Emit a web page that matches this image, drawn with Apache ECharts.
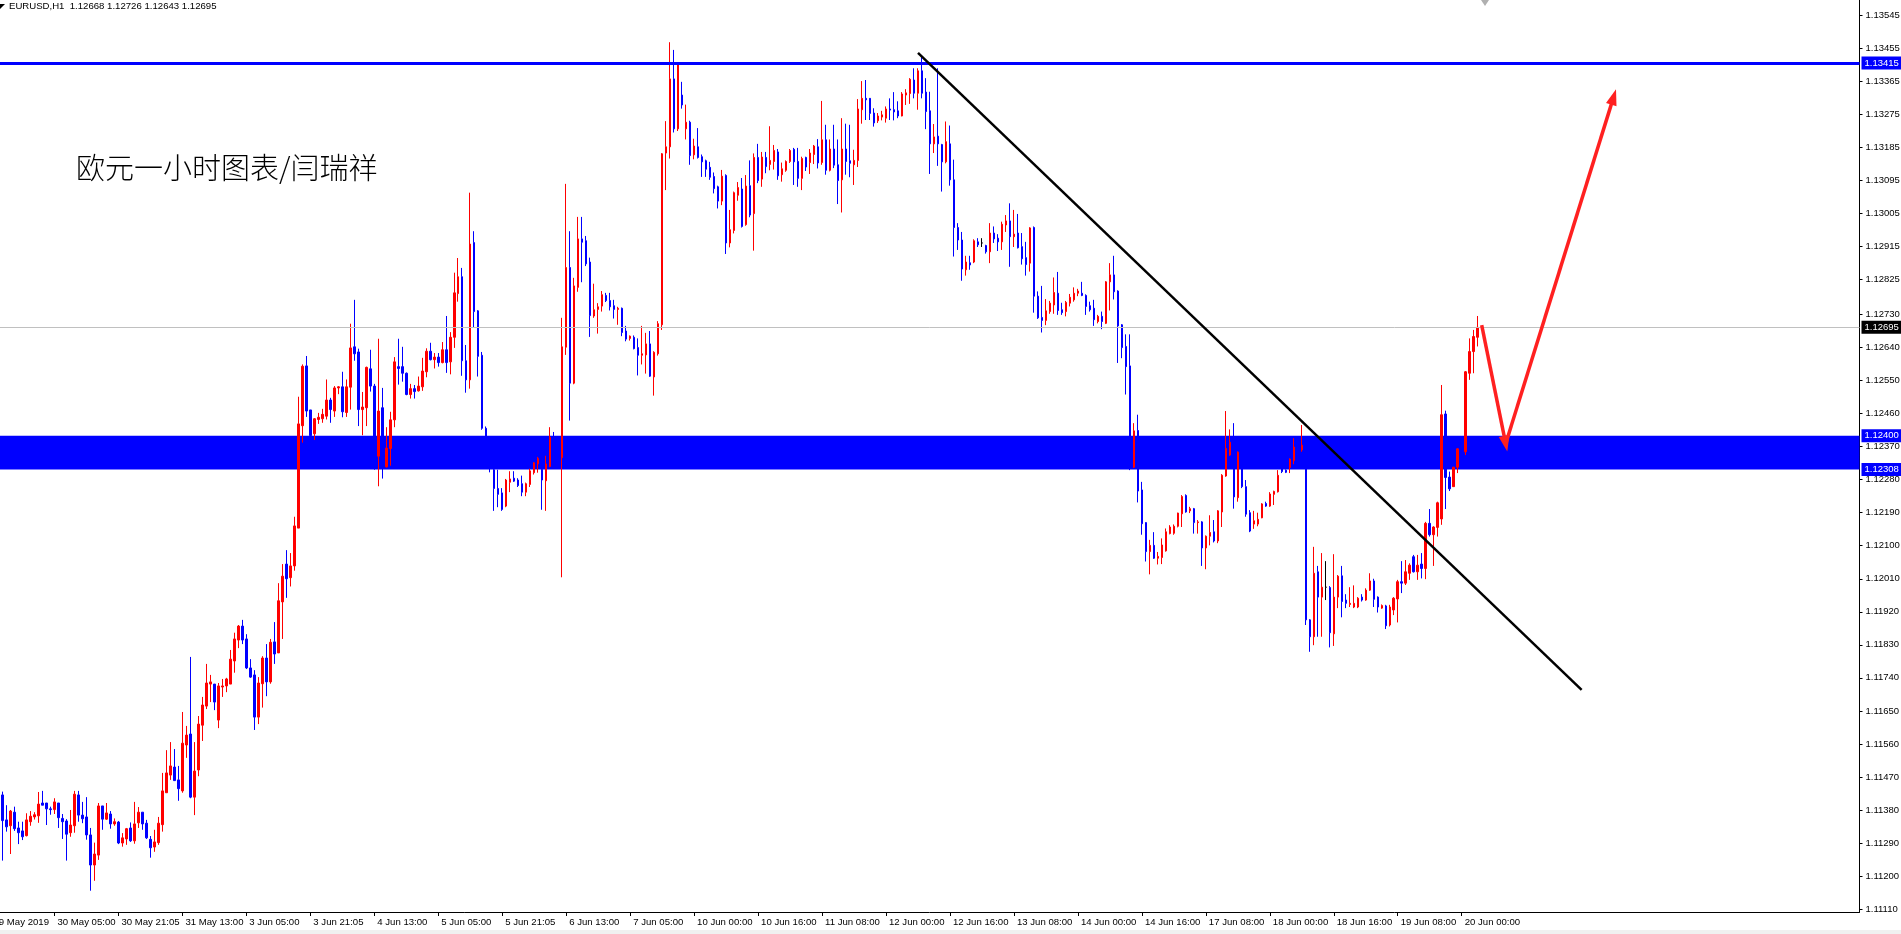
<!DOCTYPE html>
<html>
<head>
<meta charset="utf-8">
<script src="https://cdn.jsdelivr.net/npm/echarts@6/dist/echarts.min.js"></script>
<style>
html,body{margin:0;padding:0;background:#ffffff;}
#chart{width:1901px;height:934px;}
</style>
</head>
<body>
<div id="chart"></div>
<script>
// ---------------- DATA ----------------
const symbolName = 'EURUSD,H1';
const chartNote = '欧元一小时图表/闫瑞祥';

// time-axis tick labels, one every 16 hourly bars (first tick is 3 bars before first candle)
const xTickLabels = ['29 May 2019','30 May 05:00','30 May 21:05','31 May 13:00','3 Jun 05:00','3 Jun 21:05',
  '4 Jun 13:00','5 Jun 05:00','5 Jun 21:05','6 Jun 13:00','7 Jun 05:00','10 Jun 00:00','10 Jun 16:00',
  '11 Jun 08:00','12 Jun 00:00','12 Jun 16:00','13 Jun 08:00','14 Jun 00:00','14 Jun 16:00',
  '17 Jun 08:00','18 Jun 00:00','18 Jun 16:00','19 Jun 08:00','20 Jun 00:00'];
const barsPerTick = 16;
const leadBars = 3;       // empty slots before the first candle
const totalSlots = 468;   // visible hourly slots (includes empty right margin)

const yTickValues = [1.11110,1.11200,1.11290,1.11380,1.11470,1.11560,1.11650,1.11740,1.11830,1.11920,
  1.12010,1.12100,1.12190,1.12280,1.12370,1.12460,1.12550,1.12640,1.12730,1.12825,1.12915,1.13005,
  1.13095,1.13185,1.13275,1.13365,1.13455,1.13545];
const yMin = 1.11102, yMax = 1.13587;

const open = [
1.11421,1.11353,1.11337,1.11374,1.11331,1.11323,1.11310,1.11348,1.11361,1.11364,
1.11399,1.11399,1.11383,1.11381,1.11399,1.11357,1.11350,1.11318,1.11337,1.11421,
1.11366,1.11361,1.11312,1.11230,1.11257,1.11391,1.11355,1.11369,1.11342,1.11347,
1.11290,1.11301,1.11331,1.11296,1.11345,1.11374,1.11344,1.11300,1.11279,1.11291,
1.11340,1.11427,1.11475,1.11497,1.11462,1.11432,1.11557,1.11587,1.11415,1.11489,
1.11611,1.11663,1.11723,1.11723,1.11625,1.11715,1.11718,1.11723,1.11786,1.11843,
1.11881,1.11846,1.11767,1.11748,1.11633,1.11724,1.11794,1.11729,1.11838,1.11808,
1.11947,1.12050,1.12013,1.12045,1.12148,1.12427,1.12590,1.12470,1.12405,1.12444,
1.12446,1.12453,1.12497,1.12467,1.12530,1.12533,1.12463,1.12532,1.12642,1.12628,
1.12471,1.12476,1.12582,1.12535,1.12344,1.12476,1.12315,1.12365,1.12443,1.12588,
1.12588,1.12570,1.12512,1.12528,1.12522,1.12533,1.12574,1.12630,1.12607,1.12614,
1.12599,1.12634,1.12601,1.12668,1.12787,1.12833,1.12604,1.12552,1.12926,1.12740,
1.12619,1.12420,1.12388,1.12307,1.12256,1.12244,1.12208,1.12273,1.12284,1.12279,
1.12269,1.12246,1.12267,1.12299,1.12323,1.12308,1.12277,1.12316,1.12396,1.12355,
1.12340,1.12641,1.12858,1.12543,1.12804,1.12936,1.12931,1.12873,1.12726,1.12744,
1.12753,1.12782,1.12768,1.12754,1.12744,1.12747,1.12685,1.12665,1.12668,1.12640,
1.12619,1.12620,1.12650,1.12560,1.12623,1.12702,1.13170,1.13187,1.13372,1.13236,
1.13328,1.13236,1.13254,1.13165,1.13187,1.13160,1.13149,1.13131,1.13106,1.13078,
1.13039,1.13109,1.12925,1.12959,1.13055,1.13072,1.12975,1.13081,1.13005,1.13158,
1.13099,1.13158,1.13139,1.13147,1.13173,1.13111,1.13123,1.13147,1.13180,1.13147,
1.13101,1.13158,1.13144,1.13166,1.13187,1.13144,1.13206,1.13123,1.13181,1.13138,
1.13097,1.13181,1.13149,1.13138,1.13150,1.13288,1.13319,1.13319,1.13279,1.13258,
1.13268,1.13265,1.13290,1.13288,1.13285,1.13271,1.13328,1.13332,1.13369,1.13333,
1.13394,1.13336,1.13285,1.13195,1.13216,1.13193,1.13146,1.13195,1.13097,1.12967,
1.12933,1.12852,1.12871,1.12873,1.12928,1.12925,1.12918,1.12901,1.12952,1.12938,
1.12928,1.12974,1.12985,1.12942,1.12952,1.12915,1.12885,1.12870,1.12967,1.12780,
1.12722,1.12714,1.12738,1.12756,1.12788,1.12743,1.12738,1.12761,1.12770,1.12788,
1.12788,1.12782,1.12754,1.12747,1.12711,1.12725,1.12706,1.12819,1.12838,1.12794,
1.12702,1.12643,1.12590,1.12314,1.12414,1.12252,1.12163,1.12084,1.12101,1.12066,
1.12068,1.12086,1.12133,1.12134,1.12153,1.12187,1.12237,1.12195,1.12201,1.12163,
1.12165,1.12094,1.12126,1.12138,1.12113,1.12192,1.12290,1.12347,1.12383,1.12231,
1.12347,1.12261,1.12190,1.12159,1.12159,1.12176,1.12215,1.12208,1.12240,1.12247,
1.12318,1.12306,1.12313,1.12332,1.12369,1.12361,1.12374,1.11898,1.11852,1.12029,
1.11960,1.11987,1.11986,1.11860,1.11960,1.12018,1.11952,1.11940,1.11933,1.11933,
1.11960,1.11952,1.11979,1.12004,1.11960,1.11930,1.11936,1.11884,1.11925,1.11955,
1.12002,1.11998,1.12025,1.12070,1.12029,1.12050,1.12038,1.12161,1.12130,1.12150,
1.12173,1.12459,1.12287,1.12261,1.12314,1.12364,1.12356,1.12570,1.12629,1.12668];

const high = [
1.11430,1.11393,1.11380,1.11389,1.11348,1.11348,1.11371,1.11377,1.11374,1.11429,
1.11432,1.11399,1.11389,1.11412,1.11399,1.11369,1.11355,1.11380,1.11432,1.11432,
1.11402,1.11415,1.11331,1.11291,1.11399,1.11391,1.11399,1.11377,1.11357,1.11350,
1.11317,1.11331,1.11346,1.11402,1.11388,1.11374,1.11353,1.11309,1.11326,1.11361,
1.11481,1.11543,1.11565,1.11546,1.11500,1.11647,1.11609,1.11797,1.11565,1.11636,
1.11688,1.11778,1.11748,1.11723,1.11726,1.11737,1.11740,1.11816,1.11863,1.11884,
1.11898,1.11859,1.11791,1.11761,1.11742,1.11799,1.11832,1.11846,1.11892,1.11998,
1.12050,1.12088,1.12080,1.12179,1.12506,1.12594,1.12617,1.12470,1.12448,1.12462,
1.12473,1.12553,1.12503,1.12535,1.12535,1.12574,1.12553,1.12705,1.12770,1.12637,
1.12519,1.12588,1.12634,1.12541,1.12664,1.12530,1.12423,1.12465,1.12614,1.12664,
1.12642,1.12572,1.12541,1.12538,1.12561,1.12612,1.12638,1.12653,1.12625,1.12625,
1.12655,1.12726,1.12682,1.12844,1.12884,1.12857,1.12647,1.13062,1.12957,1.12742,
1.12628,1.12425,1.12395,1.12310,1.12307,1.12257,1.12282,1.12303,1.12303,1.12284,
1.12291,1.12272,1.12310,1.12328,1.12342,1.12310,1.12345,1.12423,1.12410,1.12380,
1.12721,1.13086,1.12957,1.12830,1.12996,1.12996,1.12944,1.12885,1.12814,1.12761,
1.12794,1.12789,1.12789,1.12770,1.12751,1.12749,1.12699,1.12673,1.12673,1.12665,
1.12699,1.12680,1.12685,1.12630,1.12712,1.13170,1.13257,1.13472,1.13451,1.13415,
1.13364,1.13302,1.13258,1.13209,1.13238,1.13166,1.13152,1.13146,1.13117,1.13081,
1.13124,1.13112,1.13015,1.13065,1.13091,1.13102,1.13110,1.13150,1.13169,1.13195,
1.13173,1.13173,1.13243,1.13192,1.13181,1.13144,1.13150,1.13181,1.13184,1.13184,
1.13160,1.13160,1.13181,1.13192,1.13208,1.13312,1.13247,1.13207,1.13247,1.13207,
1.13265,1.13250,1.13247,1.13179,1.13317,1.13366,1.13369,1.13320,1.13292,1.13279,
1.13285,1.13297,1.13319,1.13336,1.13311,1.13336,1.13344,1.13374,1.13401,1.13401,
1.13431,1.13374,1.13337,1.13249,1.13401,1.13195,1.13256,1.13245,1.13152,1.12979,
1.12955,1.12890,1.12890,1.12935,1.12938,1.12938,1.12920,1.12979,1.12970,1.12949,
1.12983,1.13001,1.13033,1.13015,1.13004,1.12952,1.12928,1.12968,1.12970,1.12793,
1.12808,1.12772,1.12767,1.12831,1.12846,1.12762,1.12767,1.12786,1.12804,1.12800,
1.12819,1.12785,1.12765,1.12770,1.12729,1.12738,1.12821,1.12870,1.12890,1.12796,
1.12704,1.12676,1.12676,1.12434,1.12457,1.12274,1.12164,1.12116,1.12137,1.12083,
1.12120,1.12147,1.12156,1.12158,1.12190,1.12238,1.12240,1.12206,1.12203,1.12170,
1.12167,1.12128,1.12183,1.12170,1.12197,1.12295,1.12467,1.12417,1.12434,1.12357,
1.12375,1.12279,1.12197,1.12195,1.12190,1.12216,1.12220,1.12246,1.12250,1.12306,
1.12320,1.12308,1.12338,1.12393,1.12380,1.12429,1.12388,1.11900,1.12097,1.12045,
1.12080,1.12058,1.11990,1.12077,1.12020,1.12045,1.11968,1.11987,1.11992,1.11960,
1.11968,1.11984,1.12025,1.12010,1.11962,1.11940,1.11939,1.11939,1.11960,1.12007,
1.12058,1.12061,1.12052,1.12075,1.12075,1.12080,1.12165,1.12200,1.12153,1.12220,
1.12538,1.12468,1.12302,1.12315,1.12366,1.12375,1.12576,1.12665,1.12688,1.12726];

const low = [
1.11242,1.11321,1.11260,1.11323,1.11287,1.11298,1.11308,1.11337,1.11354,1.11345,
1.11393,1.11339,1.11367,1.11369,1.11331,1.11301,1.11242,1.11307,1.11318,1.11348,
1.11344,1.11299,1.11160,1.11187,1.11244,1.11326,1.11353,1.11329,1.11337,1.11287,
1.11280,1.11285,1.11293,1.11288,1.11331,1.11326,1.11301,1.11250,1.11266,1.11285,
1.11321,1.11427,1.11462,1.11460,1.11405,1.11427,1.11522,1.11412,1.11366,1.11472,
1.11568,1.11655,1.11674,1.11652,1.11603,1.11688,1.11701,1.11723,1.11754,1.11821,
1.11832,1.11764,1.11740,1.11598,1.11614,1.11659,1.11690,1.11724,1.11778,1.11808,
1.11846,1.11958,1.11989,1.12032,1.12148,1.12381,1.12451,1.12380,1.12388,1.12432,
1.12435,1.12444,1.12435,1.12451,1.12513,1.12450,1.12451,1.12471,1.12604,1.12426,
1.12401,1.12426,1.12520,1.12307,1.12262,1.12283,1.12313,1.12318,1.12423,1.12539,
1.12547,1.12510,1.12501,1.12501,1.12520,1.12522,1.12559,1.12605,1.12583,1.12588,
1.12597,1.12571,1.12567,1.12639,1.12765,1.12563,1.12517,1.12528,1.12695,1.12561,
1.12416,1.12374,1.12300,1.12195,1.12205,1.12195,1.12205,1.12246,1.12274,1.12260,
1.12235,1.12235,1.12260,1.12294,1.12299,1.12198,1.12195,1.12314,1.12340,1.12320,
1.12014,1.12620,1.12441,1.12540,1.12792,1.12818,1.12862,1.12669,1.12721,1.12678,
1.12738,1.12764,1.12741,1.12719,1.12702,1.12671,1.12657,1.12659,1.12635,1.12564,
1.12594,1.12569,1.12560,1.12509,1.12618,1.12688,1.13069,1.13155,1.13226,1.13230,
1.13291,1.13207,1.13138,1.13153,1.13155,1.13105,1.13105,1.13097,1.13060,1.13019,
1.13028,1.12895,1.12913,1.12951,1.13040,1.12967,1.12972,1.12995,1.12904,1.13088,
1.13078,1.13115,1.13123,1.13125,1.13097,1.13092,1.13119,1.13143,1.13083,1.13078,
1.13069,1.13121,1.13113,1.13140,1.13128,1.13138,1.13111,1.13120,1.13129,1.13031,
1.13008,1.13111,1.13104,1.13083,1.13132,1.13250,1.13260,1.13260,1.13242,1.13252,
1.13259,1.13253,1.13260,1.13259,1.13265,1.13270,1.13301,1.13304,1.13319,1.13288,
1.13319,1.13235,1.13113,1.13170,1.13135,1.13065,1.13142,1.13081,1.12888,1.12906,
1.12822,1.12836,1.12852,1.12870,1.12914,1.12914,1.12896,1.12870,1.12925,1.12903,
1.12906,1.12955,1.12860,1.12914,1.12910,1.12866,1.12836,1.12847,1.12735,1.12718,
1.12681,1.12701,1.12732,1.12732,1.12729,1.12729,1.12725,1.12752,1.12765,1.12780,
1.12780,1.12729,1.12738,1.12699,1.12706,1.12690,1.12704,1.12741,1.12771,1.12598,
1.12611,1.12512,1.12306,1.12312,1.12218,1.12130,1.12057,1.12022,1.12064,1.12049,
1.12050,1.12084,1.12131,1.12130,1.12150,1.12151,1.12190,1.12189,1.12133,1.12133,
1.12045,1.12036,1.12101,1.12109,1.12107,1.12151,1.12288,1.12345,1.12201,1.12220,
1.12257,1.12179,1.12137,1.12146,1.12153,1.12175,1.12206,1.12206,1.12211,1.12245,
1.12298,1.12298,1.12298,1.12322,1.12350,1.12356,1.11884,1.11811,1.11829,1.11852,
1.11852,1.11952,1.11823,1.11827,1.11930,1.11905,1.11930,1.11933,1.11930,1.11930,
1.11948,1.11950,1.11977,1.11933,1.11918,1.11928,1.11873,1.11880,1.11911,1.11891,
1.11971,1.11993,1.12007,1.12027,1.12007,1.12011,1.12009,1.12125,1.12045,1.12125,
1.12157,1.12200,1.12249,1.12260,1.12298,1.12330,1.12347,1.12552,1.12570,1.12643];

const close = [
1.11351,1.11334,1.11377,1.11329,1.11318,1.11307,1.11353,1.11363,1.11367,1.11396,
1.11393,1.11383,1.11381,1.11402,1.11359,1.11348,1.11314,1.11339,1.11423,1.11366,
1.11356,1.11312,1.11230,1.11260,1.11391,1.11355,1.11372,1.11342,1.11348,1.11290,
1.11304,1.11329,1.11296,1.11342,1.11374,1.11342,1.11304,1.11277,1.11293,1.11344,
1.11432,1.11481,1.11500,1.11460,1.11438,1.11562,1.11584,1.11415,1.11486,1.11614,
1.11666,1.11726,1.11729,1.11674,1.11718,1.11718,1.11737,1.11791,1.11846,1.11881,
1.11843,1.11767,1.11742,1.11633,1.11726,1.11794,1.11729,1.11837,1.11805,1.11950,
1.12017,1.12010,1.12045,1.12154,1.12432,1.12589,1.12467,1.12400,1.12446,1.12450,
1.12458,1.12497,1.12471,1.12530,1.12533,1.12465,1.12533,1.12639,1.12623,1.12471,
1.12478,1.12586,1.12535,1.12313,1.12467,1.12313,1.12366,1.12443,1.12601,1.12583,
1.12570,1.12512,1.12528,1.12520,1.12535,1.12576,1.12630,1.12607,1.12614,1.12599,
1.12634,1.12599,1.12668,1.12789,1.12833,1.12604,1.12552,1.12922,1.12738,1.12616,
1.12420,1.12388,1.12320,1.12256,1.12240,1.12199,1.12279,1.12282,1.12276,1.12264,
1.12246,1.12269,1.12304,1.12326,1.12338,1.12279,1.12323,1.12396,1.12355,1.12340,
1.12642,1.12858,1.12543,1.12808,1.12936,1.12927,1.12868,1.12727,1.12743,1.12751,
1.12784,1.12768,1.12751,1.12744,1.12747,1.12681,1.12663,1.12671,1.12637,1.12619,
1.12623,1.12650,1.12562,1.12627,1.12705,1.13168,1.13187,1.13372,1.13236,1.13412,
1.13301,1.13254,1.13163,1.13189,1.13158,1.13146,1.13126,1.13104,1.13073,1.13039,
1.13107,1.12925,1.12961,1.13062,1.13076,1.12970,1.13080,1.13001,1.13158,1.13095,
1.13159,1.13133,1.13150,1.13177,1.13108,1.13127,1.13147,1.13177,1.13146,1.13101,
1.13155,1.13132,1.13170,1.13189,1.13143,1.13206,1.13123,1.13181,1.13137,1.13095,
1.13181,1.13147,1.13142,1.13150,1.13290,1.13319,1.13315,1.13278,1.13252,1.13271,
1.13274,1.13290,1.13287,1.13282,1.13271,1.13331,1.13334,1.13371,1.13333,1.13394,
1.13333,1.13283,1.13195,1.13214,1.13195,1.13146,1.13201,1.13097,1.12967,1.12933,
1.12854,1.12873,1.12865,1.12931,1.12920,1.12925,1.12901,1.12952,1.12936,1.12928,
1.12976,1.12985,1.12942,1.12949,1.12912,1.12882,1.12866,1.12966,1.12780,1.12721,
1.12714,1.12740,1.12761,1.12790,1.12741,1.12735,1.12763,1.12777,1.12788,1.12794,
1.12782,1.12752,1.12743,1.12716,1.12725,1.12711,1.12819,1.12838,1.12792,1.12699,
1.12640,1.12588,1.12314,1.12413,1.12249,1.12160,1.12084,1.12101,1.12066,1.12071,
1.12102,1.12138,1.12151,1.12153,1.12189,1.12234,1.12192,1.12201,1.12163,1.12165,
1.12094,1.12126,1.12136,1.12113,1.12195,1.12292,1.12365,1.12382,1.12233,1.12355,
1.12261,1.12186,1.12140,1.12168,1.12172,1.12214,1.12208,1.12241,1.12248,1.12292,
1.12302,1.12300,1.12336,1.12369,1.12356,1.12374,1.11898,1.11852,1.12025,1.11960,
1.11987,1.11987,1.11863,1.11960,1.12017,1.11948,1.11943,1.11943,1.11943,1.11957,
1.11952,1.11979,1.12004,1.11954,1.11933,1.11937,1.11882,1.11933,1.11957,1.12002,
1.11998,1.12029,1.12047,1.12029,1.12047,1.12038,1.12161,1.12130,1.12151,1.12217,
1.12457,1.12286,1.12255,1.12314,1.12364,1.12347,1.12574,1.12629,1.12670,1.12695];

// horizontal levels drawn on the chart
const resistanceLevel = 1.13415;
const zoneLevels = [1.12400, 1.12308];

// hand-drawn annotations, as [bar index, price]
const trendLine = [[229, 1.13443], [395, 1.11707]];
const arrowDown = [[370, 1.12701], [376, 1.12378]];
const arrowUp   = [[376, 1.12378], [403, 1.13323]];

// ---------------- CHART ----------------
const fmt = v => Number(v).toFixed(5);
const last = open.length - 1;
const currentPrice = close[last];

const categories = [];
for (let j = 0; j < totalSlots; j++) {
  const k = j / barsPerTick;
  categories.push(Number.isInteger(k) && k < xTickLabels.length ? xTickLabels[k] : '#' + j);
}
const tickSet = new Set(xTickLabels);
const isTick = (idx, val) => tickSet.has(val);

const candles = [];
for (let j = 0; j < leadBars; j++) candles.push(['-', '-', '-', '-']);
for (let i = 0; i < open.length; i++) candles.push([open[i], close[i], low[i], high[i]]);

const pt = p => ({ coord: [p[0] + leadBars, p[1]], symbol: 'none' });
const FONT = 'Liberation Sans';
const levelLabel = (bg) => ({
  show: true, position: 'end', distance: 2,
  formatter: p => fmt(p.value),
  color: '#ffffff', backgroundColor: bg, opacity: 1,
  padding: [2, 3, 1, 3], fontSize: 9.5, fontFamily: FONT
});

const chart = echarts.init(document.getElementById('chart'), null, { renderer: 'canvas' });
chart.setOption({
  animation: false,
  backgroundColor: '#ffffff',
  title: [
    {
      text: `${symbolName}  ${fmt(open[last])} ${fmt(high[last])} ${fmt(low[last])} ${fmt(close[last])}`,
      left: 9, top: 1, padding: 0,
      textStyle: { fontSize: 9.6, fontWeight: 'normal', color: '#000', fontFamily: FONT }
    },
    {
      text: chartNote, left: 76, top: 153, padding: 0,
      textStyle: { fontSize: 29, fontWeight: 300, color: '#000', fontFamily: 'Noto Sans CJK SC' }
    }
  ],
  grid: { left: -11.5, right: 41.5, top: 0, bottom: 22, containLabel: false, outerBoundsMode: 'none' },
  xAxis: {
    type: 'category', data: categories, boundaryGap: true,
    axisLine: { show: true, lineStyle: { color: '#000', width: 1 } },
    axisTick: { show: true, alignWithLabel: true, interval: isTick, length: 4, lineStyle: { color: '#000' } },
    axisLabel: {
      interval: isTick, formatter: v => v, align: 'left', padding: [0, 0, 0, 3],
      margin: 5, color: '#000', fontSize: 9.6, fontFamily: FONT
    },
    splitLine: { show: false }
  },
  yAxis: {
    type: 'value', position: 'right', min: yMin, max: yMax, scale: true,
    axisLine: { show: true, lineStyle: { color: '#000', width: 1 } },
    axisTick: { show: true, length: 3, customValues: yTickValues, lineStyle: { color: '#000' } },
    axisLabel: { customValues: yTickValues, formatter: v => fmt(v), color: '#000', fontSize: 9.5, margin: 6, fontFamily: FONT },
    splitLine: { show: false }
  },
  series: [{
    type: 'candlestick',
    data: candles,
    barWidth: 2,
    itemStyle: {
      color: '#ff0000', color0: '#0000ff',
      borderColor: '#ff0000', borderColor0: '#0000ff',
      borderColorDoji: '#000000', borderWidth: 1
    },
    markArea: {
      silent: true, z: 1,
      itemStyle: { color: '#0000ff', opacity: 1 },
      label: { show: false },
      data: [[{ yAxis: zoneLevels[0] }, { yAxis: zoneLevels[1] }]]
    },
    markLine: {
      silent: true, symbol: ['none', 'none'], animation: false, precision: 5,
      data: [
        { yAxis: resistanceLevel, lineStyle: { color: '#0000ff', width: 3, type: 'solid' }, label: levelLabel('#0000ff') },
        { yAxis: currentPrice, lineStyle: { color: '#c0c0c0', width: 1, type: 'solid' }, label: levelLabel('#000000') },
        { yAxis: zoneLevels[0], lineStyle: { color: 'rgba(0,0,255,0)', width: 1, type: 'solid' }, label: levelLabel('#0000ff') },
        { yAxis: zoneLevels[1], lineStyle: { color: 'rgba(0,0,255,0)', width: 1, type: 'solid' }, label: levelLabel('#0000ff') },
        [ Object.assign(pt(trendLine[0]), { lineStyle: { color: '#000000', width: 2.5, type: 'solid' }, label: { show: false } }),
          pt(trendLine[1]) ],
        [ Object.assign(pt(arrowDown[0]), { lineStyle: { color: '#ff2020', width: 3.5, type: 'solid' }, label: { show: false } }),
          Object.assign(pt(arrowDown[1]), { symbol: 'triangle', symbolSize: [11, 16], itemStyle: { color: '#ff2020' } }) ],
        [ Object.assign(pt(arrowUp[0]), { lineStyle: { color: '#ff2020', width: 3.5, type: 'solid' }, label: { show: false } }),
          Object.assign(pt(arrowUp[1]), { symbol: 'triangle', symbolSize: [11, 16], itemStyle: { color: '#ff2020' } }) ]
      ]
    }
  }],
  graphic: [
    { type: 'polygon', shape: { points: [[0, 4], [5, 4], [0, 9]] }, style: { fill: '#000' } },
    { type: 'polygon', shape: { points: [[1481, 0], [1489, 0], [1485, 6]] }, style: { fill: '#b0b0b0' } },
    { type: 'rect', shape: { x: 0, y: 930, width: 1901, height: 4 }, style: { fill: '#f0f0f0' } }
  ]
});
</script>
</body>
</html>
